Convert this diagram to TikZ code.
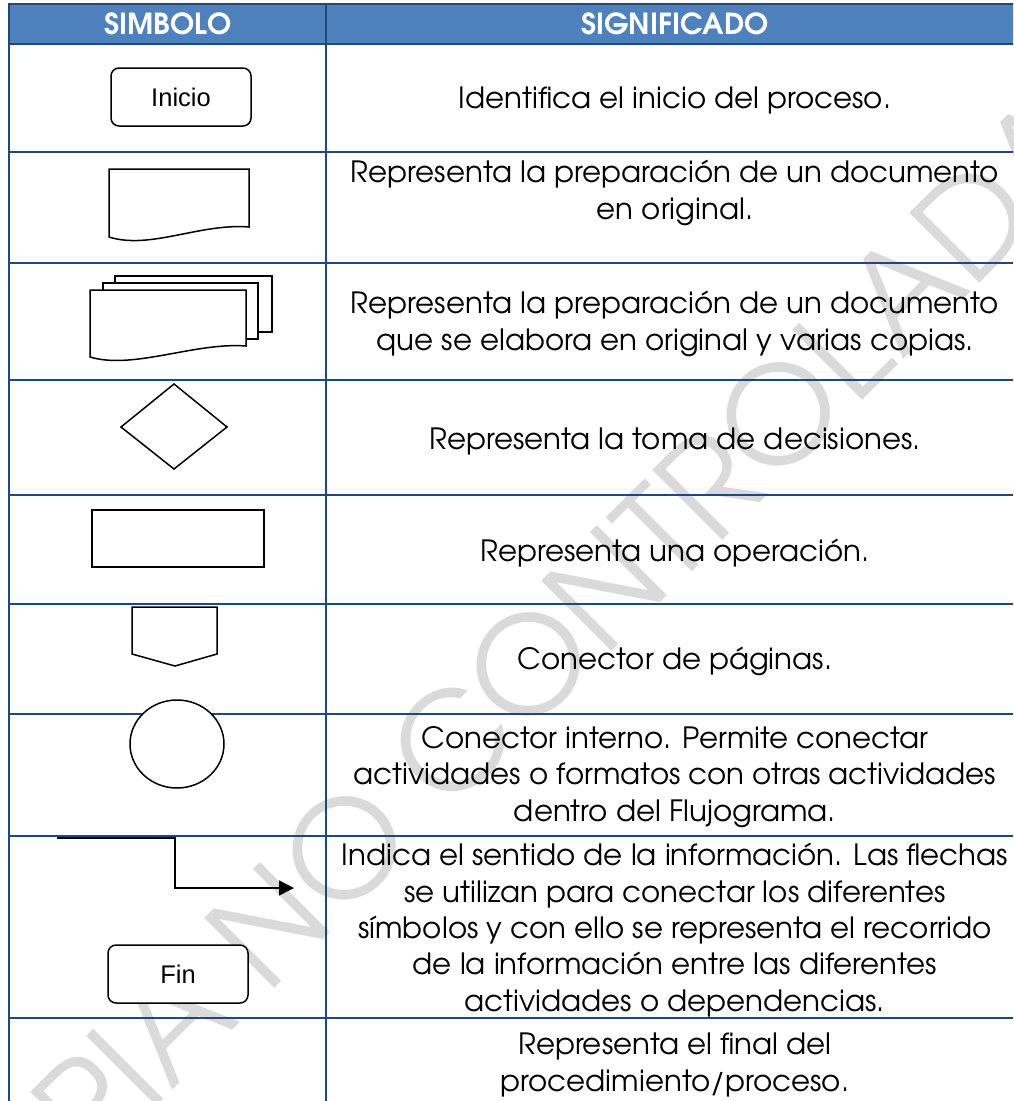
\documentclass[tikz,border=0pt]{standalone}
\usepackage{fontspec}
\setmainfont{TeX Gyre Adventor}
\newfontfamily\arialf{Liberation Sans}
\usetikzlibrary{arrows.meta}
\definecolor{tline}{HTML}{1F497D}
\definecolor{thead}{HTML}{4F81BD}
\definecolor{wm}{HTML}{DADADA}
\begin{document}
\begin{tikzpicture}[x=1pt,y=-1pt,
  gridline/.style={draw=tline,line width=2.6pt},
  sym/.style={draw=black,line width=1.5pt,fill=white,line join=miter},
  desc/.style={align=center,font=\fontsize{29.3}{36.4}\selectfont,inner sep=0pt},
  hdr/.style={text=white,font=\bfseries\fontsize{29}{32}\selectfont,inner sep=0pt},
  term/.style={sym,rounded corners=8pt,minimum width=140pt,minimum height=58pt,inner sep=0pt,font=\arialf\fontsize{25.5}{28}\selectfont}]
\clip (0,0) rectangle (1013,1101);
\fill[white] (0,0) rectangle (1013,1101);
% watermark
\node[text=wm, rotate=45, inner sep=0pt, font=\fontsize{134}{134}\selectfont] (wmk) at (488,705) {COPIA NO CONTROLADA};
% header
\fill[thead] (9,4) rectangle (1030,44);
\node[hdr] (h1) at (168,24) {SIMBOLO};
\node[hdr] (h2) at (675,24) {SIGNIFICADO};
% grid
\foreach \yy in {4,44,152,263,380,495,604,714,836,1018}
  \draw[gridline] (7.7,\yy) -- (1030,\yy);
\draw[gridline] (9,2.7) -- (9,1110);
\draw[gridline] (326,2.7) -- (326,1110);
% descriptions
\node[desc] (d1) at (675,100) {Identifica el inicio del proceso.};
\node[desc] (d2) at (675,193) {Representa la preparación de un documento\\en original.};
\node[desc] (d3) at (675,324) {Representa la preparación de un documento\\que se elabora en original y varias copias.};
\node[desc] (d4) at (675,441) {Representa la toma de decisiones.};
\node[desc] (d5) at (675,553) {Representa una operación.};
\node[desc] (d6) at (675,661) {Conector de páginas.};
\node[desc] (d7) at (675,777) {Conector interno. Permite conectar\\actividades o formatos con otras actividades\\dentro del Flujograma.};
\node[desc] (d8) at (675,930) {Indica el sentido de la información. Las flechas\\se utilizan para conectar los diferentes\\símbolos y con ello se representa el recorrido\\de la información entre las diferentes\\actividades o dependencias.};
\node[desc] (d9) at (675,1065) {Representa el final del\\procedimiento/proceso.};
% symbols
\node[term] (inicio) at (181,97) {Inicio};
% document
\draw[sym] (109,169) -- (249,169) -- (249,227) .. controls (200,223) and (150,250) .. (109,237) -- cycle;
% multi-document
\draw[sym] (115,276) rectangle (272,332);
\draw[sym] (103,283) rectangle (258,339);
\draw[sym] (90,290) -- (246,290) -- (246,346) .. controls (195,342) and (133,370) .. (90,357) -- cycle;
% decision
\draw[sym] (121,427) -- (174,384) -- (227,427) -- (174,469) -- cycle;
% operation
\draw[sym] (92,510) rectangle (264,567);
% off-page connector
\draw[sym] (132,607) -- (217,607) -- (217,654) -- (175,666) -- (132,654) -- cycle;
% internal connector
\draw[sym] (177,744) ellipse [x radius=47pt, y radius=44pt];
% flow arrow
\coordinate (a1) at (57,838);
\coordinate (a2) at (175,838);
\coordinate (a3) at (175,888);
\coordinate (a4) at (294,888);
\draw[line width=1.4pt,-{Triangle[length=15pt,width=15pt]}] (a1) -- (a2) -- (a3) -- (a4);
% end
\node[term] (fin) at (178,974) {Fin};
\end{tikzpicture}
\end{document}
